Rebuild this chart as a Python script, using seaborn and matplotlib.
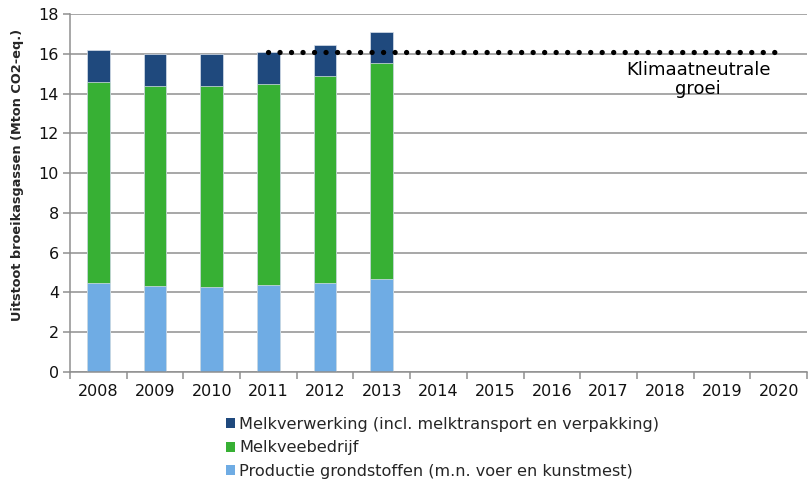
import pandas as pd
import numpy as np
import seaborn as sns
import matplotlib.pyplot as plt
from matplotlib.patches import Patch

# waarden (Mton CO2-eq.)
jaren = [str(j) for j in range(2008, 2021)]
data_jaren = ['2008', '2009', '2010', '2011', '2012', '2013']
grondstoffen = [4.47, 4.33, 4.25, 4.35, 4.48, 4.68]
veebedrijf = [10.10, 10.05, 10.12, 10.12, 10.40, 10.85]
verwerking = [1.61, 1.61, 1.60, 1.61, 1.56, 1.55]

neutraal_niveau = 16.1
neutraal_jaren = ['2011', '2020']

labels = ['Melkverwerking (incl. melktransport en verpakking)',
          'Melkveebedrijf',
          'Productie grondstoffen (m.n. voer en kunstmest)']
kleuren = ['#1F497D', '#37B034', '#6FACE4']

df = pd.DataFrame({'jaar': data_jaren,
                   'grond': grondstoffen,
                   'vee': veebedrijf,
                   'verw': verwerking})
df['top_vee'] = df['grond'] + df['vee']
df['totaal'] = df['top_vee'] + df['verw']

sns.set_theme(style='white')
plt.rcParams['font.family'] = ['DejaVu Sans']

fig = plt.figure(figsize=(8.08, 4.82), dpi=100)
ax = fig.add_axes([70 / 808, 110 / 482, 737 / 808, 358 / 482])

grijs = '#8f8f8f'
ax.set_axisbelow(True)
ax.yaxis.grid(True, color=grijs, linewidth=1.1)

for kolom, kleur in zip(['totaal', 'top_vee', 'grond'], kleuren):
    sns.barplot(data=df, x='jaar', y=kolom, order=jaren, color=kleur,
                width=0.4, saturation=1, edgecolor='#d8e0ea', linewidth=0.5,
                ax=ax)

# lijn klimaatneutrale groei
xs = [jaren.index(j) for j in neutraal_jaren]
ax.plot(xs, [neutraal_niveau] * 2, color='black', linewidth=3.8,
        linestyle=(0, (0.01, 2.17)), dash_capstyle='round')
ax.text(10.58, 14.72, 'Klimaatneutrale\ngroei', ha='center', va='center',
        fontsize=13, color='black', linespacing=1.1)

ax.set_xlim(-0.5, len(jaren) - 0.5)
ax.set_ylim(0, 18)
ax.set_yticks(range(0, 19, 2))
ax.set_xlabel('')
ax.set_ylabel('Uitstoot broeikasgassen (Mton CO2-eq.)', fontsize=9.3,
              fontweight='bold')
ax.yaxis.set_label_coords(-0.062, 0.55)

for kant in ['top', 'right']:
    ax.spines[kant].set_visible(False)
ax.spines['left'].set_color(grijs)
ax.spines['left'].set_linewidth(1.1)
ax.spines['bottom'].set_color(grijs)
ax.spines['bottom'].set_linewidth(1.1)

ax.tick_params(axis='y', left=True, length=5, width=1.1, color=grijs,
               labelsize=11.5, pad=3, labelcolor='#111111')
ax.tick_params(axis='x', bottom=False, labelsize=11.5, pad=3,
               labelcolor='#111111')
# streepjes tussen de categorieen
ax.set_xticks(np.arange(-0.5, len(jaren), 1), minor=True)
ax.tick_params(axis='x', which='minor', bottom=True, length=5, width=1.1,
               color=grijs)

handles = [Patch(facecolor=k, edgecolor='none') for k in kleuren]
fig.legend(handles, labels, loc='upper left', bbox_to_anchor=(226 / 808, 1 - 417 / 482),
           frameon=False, fontsize=11.6, handlelength=0.55, handleheight=0.55,
           handletextpad=0.25, labelspacing=0.52, borderaxespad=0, borderpad=0)

fig.savefig('out.png', dpi=100)
